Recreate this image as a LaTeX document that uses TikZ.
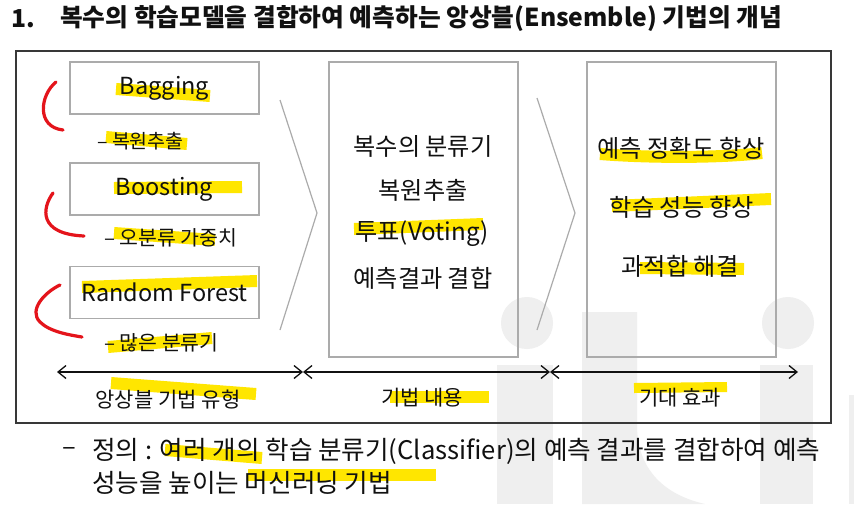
\documentclass[tikz,border=0pt]{standalone}
\usepackage{fontspec}
\setmainfont{Noto Sans CJK KR}
\usetikzlibrary{arrows.meta}
\definecolor{hlyellow}{HTML}{FFE600}
\definecolor{wm}{HTML}{EFEFEF}
\definecolor{boxgray}{HTML}{ABABAB}
\definecolor{framegray}{HTML}{383838}
\definecolor{penred}{HTML}{E4141B}
\definecolor{ink}{HTML}{111111}
\tikzset{
  hl/.style={draw=hlyellow, line width=12pt, line cap=butt},
  redpen/.style={draw=penred, line width=3.2pt, line cap=round},
  typebox/.style={draw=boxgray, line width=1.2pt, minimum width=189pt, minimum height=52pt, inner sep=0pt, font=\fontsize{23.5}{27}\selectfont, text=ink},
  tallbox/.style={draw=boxgray, line width=1.2pt, minimum width=189pt, minimum height=295pt, inner sep=0pt},
  chev/.style={draw=boxgray, line width=1.2pt, line join=miter},
  sublabel/.style={anchor=west, inner sep=0pt, font=\fontsize{20.5}{24}\selectfont, text=ink},
  midtext/.style={inner sep=0pt, font=\fontsize{24.2}{28}\selectfont, text=ink},
  axislabel/.style={inner sep=0pt, font=\fontsize{21}{25}\selectfont, text=ink},
  dblarrow/.style={line width=1.3pt, ink, {Straight Barb[length=8pt,width=13pt]}-{Straight Barb[length=8pt,width=13pt]}},
  bodytext/.style={anchor=west, inner sep=0pt, font=\fontsize{25.6}{30}\selectfont, text=ink}
}
\begin{document}
\begin{tikzpicture}[x=1pt,y=-1pt]
\useasboundingbox (0,0) rectangle (854,504);
\fill[white] (0,0) rectangle (854,504);

% watermark
\fill[wm] (527,323) circle (26);
\fill[wm] (788,323) circle (26);
\fill[wm] (497,365) rectangle (553,504);
\fill[wm] (582,312) -- (637,312) -- (637,425) .. controls (637,470) and (665,495) .. (705,504) -- (582,504) -- cycle;
\fill[wm] (760,365) rectangle (813,504);
\fill[wm] (849,395) rectangle (854,504);

% frame
\draw[framegray, line width=2pt] (16,51) rectangle (831,423);

% highlights
\draw[hl] (116,89) -- (210,96);
\draw[hl] (106,137) -- (187,144);
\draw[hl] (114,188) -- (242,187);
\draw[hl] (114,233) -- (215,240);
\draw[hl] (82,287) -- (257,281);
\draw[hl] (108,347) -- (212,338);
\draw[hl] (354,229) -- (483,224);
\draw[hl] (600,154) .. controls (650,158) and (720,158) .. (762,153);
\draw[hl] (612,206) -- (771,199);
\draw[hl] (640,268) -- (744,269);
\draw[hl] (111,383) -- (256,394);
\draw[hl] (390,397) -- (489,397);
\draw[hl, line width=10pt] (634,388) -- (727,387);
\draw[hl] (165,450) -- (262,458);
\draw[hl] (248,475) -- (436,475);

% left boxes
\node[typebox] (bag) at (164.5,88) {Bagging};
\node[typebox] (boost) at (164.5,189) {Boosting};
\node[typebox] (rf) at (164.5,292.5) {Random Forest};

\node[sublabel, font=\fontsize{19.5}{23}\selectfont] (bagsub) at (97,141) {– 복원추출};
\node[sublabel] (boostsub) at (104,238) {– 오분류 가중치};
\node[sublabel] (rfsub) at (104,343) {– 많은 분류기};

% red brackets
\draw[redpen] (56,82) .. controls (40,95) and (36,127) .. (63,130);
\draw[redpen] (53,193) .. controls (42,208) and (38,234) .. (84,236);
\draw[redpen] (60,285) .. controls (45,292) and (28,310) .. (40,322) .. controls (50,332) and (70,335) .. (82,337);

% chevrons
\coordinate (c1a) at (280,100);
\coordinate (c1b) at (317,213);
\coordinate (c1c) at (280,330);
\draw[chev] (c1a) -- (c1b) -- (c1c);
\coordinate (c2a) at (537,98);
\coordinate (c2b) at (575,213);
\coordinate (c2c) at (537,330);
\draw[chev] (c2a) -- (c2b) -- (c2c);

% middle box
\node[tallbox] (mid) at (423.5,209.5) {};
\node[midtext] (m1) at (423,146) {복수의 분류기};
\node[midtext] (m2) at (423,190) {복원추출};
\node[midtext] (m3) at (422,234) {투표(Voting)};
\node[midtext] (m4) at (423,278) {예측결과 결합};

% right box
\node[tallbox] (eff) at (681.5,209.5) {};
\node[midtext] (e1) at (681,148) {예측 정확도 향상};
\node[midtext] (e2) at (682,207) {학습 성능 향상};
\node[midtext] (e3) at (680,266) {과적합 해결};

% axis arrows
\coordinate (a0) at (57,372);
\coordinate (a1) at (303,372);
\coordinate (a2) at (550,372);
\coordinate (a3) at (798,372);
\draw[dblarrow] (a0) -- (a1);
\draw[dblarrow] (a1) -- (a2);
\draw[dblarrow] (a2) -- (a3);

\node[axislabel] (l1) at (168,400) {앙상블 기법 유형};
\node[axislabel] (l2) at (422,398) {기법 내용};
\node[axislabel] (l3) at (680,398) {기대 효과};

% title
\node[anchor=west, inner sep=0pt, font=\fontsize{24.7}{29}\selectfont\bfseries, text=ink] (num) at (11,19) {1.};
\node[anchor=west, inner sep=0pt, font=\fontsize{24.7}{29}\selectfont\bfseries, text=ink] (title) at (60,19) {복수의 학습모델을 결합하여 예측하는 앙상블(Ensemble) 기법의 개념};

% definition
\node[anchor=west, inner sep=0pt, font=\fontsize{25.6}{30}\selectfont, text=ink] (dash) at (62,451) {–};
\node[bodytext] (def1) at (92,451) {정의 : 여러 개의 학습 분류기(Classifier)의 예측 결과를 결합하여 예측};
\node[bodytext] (def2) at (92,483) {성능을 높이는 머신러닝 기법};
\end{tikzpicture}
\end{document}
